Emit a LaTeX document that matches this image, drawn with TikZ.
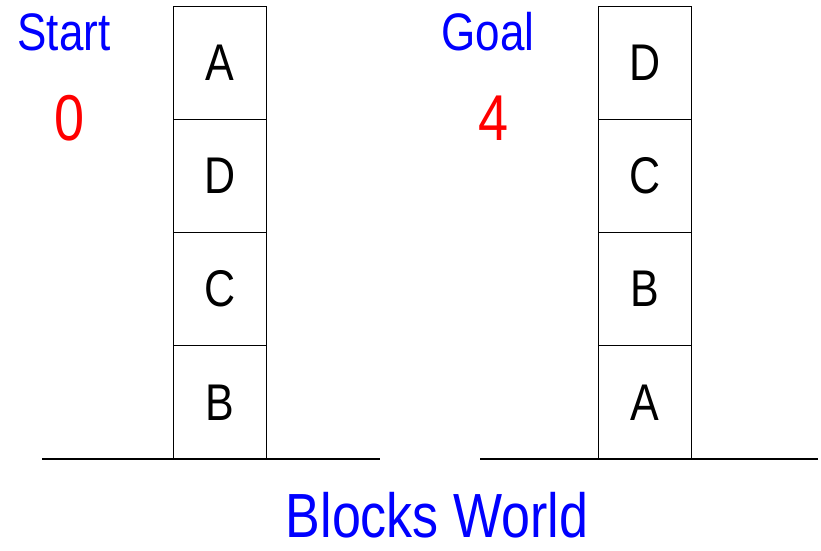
\documentclass[tikz,border=0pt]{standalone}
\usepackage{fontspec}
\setmainfont{Liberation Sans}
\usepackage{graphicx}
\usepackage{xcolor}
\usetikzlibrary{positioning}
\definecolor{bwblue}{HTML}{0000FF}
\definecolor{bwred}{HTML}{FF0000}
\newcommand{\tall}[1]{\scalebox{1}[1.2]{#1}}
\newcommand{\fs}[1]{\fontsize{#1}{#1}\selectfont}
\tikzset{
  blk/.style    = {rectangle, draw=black, line width=1.3pt, fill=white,
                   minimum width=93pt, minimum height=113.2pt, inner sep=0pt,
                   font=\fs{43}},
  ground/.style = {draw=black, line width=2.6pt},
  head/.style   = {anchor=base, inner sep=0pt, text=bwblue, font=\fs{44}},
  score/.style  = {anchor=base, inner sep=0pt, text=bwred, font=\fs{54}},
  title/.style  = {anchor=base, inner sep=0pt, text=bwblue, font=\fs{52}},
}
\begin{document}
\begin{tikzpicture}[x=1pt,y=-1pt]
  \useasboundingbox (0,0) rectangle (821,550);
  % ground
  \draw[ground] (42,459) -- (380,459);
  \draw[ground] (480,459) -- (818,459);
  % start stack
  \node[blk] (sB) at (220,402.4) {\tall{B}};
  \node[blk] (sC) at (220,289.2) {\tall{C}};
  \node[blk] (sD) at (220,176.0) {\tall{D}};
  \node[blk] (sA) at (220,62.8) {\tall{A}};
  % goal stack
  \node[blk] (gA) at (645,402.4) {\tall{A}};
  \node[blk] (gB) at (645,289.2) {\tall{B}};
  \node[blk] (gC) at (645,176.0) {\tall{C}};
  \node[blk] (gD) at (645,62.8) {\tall{D}};
  % labels
  \node[head] (start) at (64,50) {\tall{Start}};
  \node[score] (h0) at (70,140) {\tall{0}};
  \node[head] (goal) at (488,50) {\tall{Goal}};
  \node[score] (h4) at (494,140) {\tall{4}};
  \node[title] (bw) at (437,537) {\tall{Blocks World}};
\end{tikzpicture}
\end{document}
